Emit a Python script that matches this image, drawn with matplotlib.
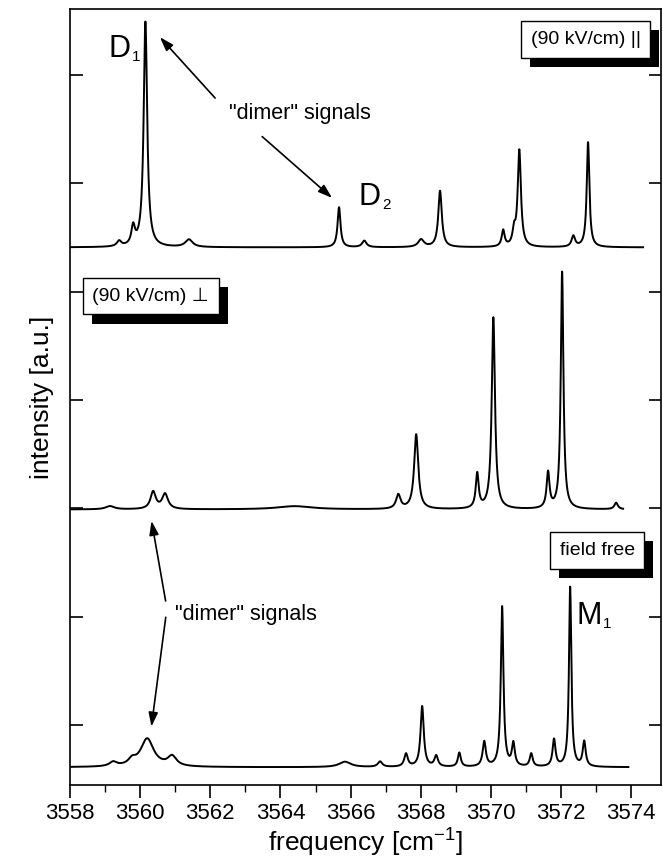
import numpy as np
import matplotlib
matplotlib.use("Agg")
import matplotlib.pyplot as plt
import matplotlib.patheffects as pe
from matplotlib.ticker import MultipleLocator

plt.rcParams['font.family'] = ['Liberation Sans', 'DejaVu Sans']
plt.rcParams['mathtext.fontset'] = 'custom'
plt.rcParams['mathtext.rm'] = 'Liberation Sans'
plt.rcParams['mathtext.it'] = 'Liberation Sans'

# (90 kV/cm) parallel
par_offset = 4.41
par_end = 3574.34
par_pos = [3559.40, 3559.80, 3560.15, 3561.39, 3565.67, 3566.39, 3568.01, 3568.55,
           3570.35, 3570.66, 3570.81, 3572.35, 3572.77]
par_height = [0.05, 0.17, 2.08, 0.07, 0.37, 0.06, 0.07, 0.52, 0.15, 0.13, 0.89, 0.10, 0.97]
par_width = [0.15, 0.12, 0.12, 0.25, 0.10, 0.15, 0.20, 0.12, 0.10, 0.10, 0.11, 0.12, 0.09]

# (90 kV/cm) perpendicular
perp_offset = 1.99
perp_end = 3573.77
perp_pos = [3559.14, 3560.37, 3560.71, 3564.40, 3567.36, 3567.87, 3569.61, 3570.07,
            3571.63, 3572.03, 3573.57]
perp_height = [0.03, 0.16, 0.14, 0.03, 0.13, 0.69, 0.32, 1.77, 0.33, 2.19, 0.06]
perp_width = [0.30, 0.18, 0.20, 1.20, 0.15, 0.14, 0.10, 0.11, 0.10, 0.09, 0.12]

# field free
free_offset = -0.39
free_end = 3573.92
free_pos = [3559.23, 3559.77, 3560.20, 3560.91, 3565.84, 3566.84, 3567.58, 3568.04,
            3568.44, 3569.10, 3569.81, 3570.32, 3570.64, 3571.15, 3571.80, 3572.26, 3572.66]
free_height = [0.04, 0.05, 0.26, 0.09, 0.05, 0.05, 0.12, 0.56, 0.10, 0.13, 0.23, 1.48,
               0.21, 0.12, 0.25, 1.66, 0.23]
free_width = [0.25, 0.25, 0.45, 0.30, 0.40, 0.15, 0.12, 0.11, 0.12, 0.10, 0.11, 0.09,
              0.10, 0.10, 0.10, 0.08, 0.10]

x_ticks = [3558, 3560, 3562, 3564, 3566, 3568, 3570, 3572, 3574]


def spectrum(x, pos, height, width, offset):
    y = np.zeros_like(x) + offset
    for p, h, w in zip(pos, height, width):
        g = w / 2.0
        y += h * g ** 2 / ((x - p) ** 2 + g ** 2)
    return y


def shadow_box(ax, x, y, s):
    t = ax.text(x, y, s, fontsize=14, ha='center', va='center', zorder=5,
                bbox=dict(boxstyle='square,pad=0.5', fc='white', ec='black', lw=1.0))
    t.get_bbox_patch().set_path_effects([
        pe.SimplePatchShadow(offset=(6.5, -6.5), shadow_rgbFace='black', alpha=1.0),
        pe.Normal()])
    return t


def peak_label(ax, x, y, letter, sub):
    # big letter with a small, low subscript like the original figure
    ax.text(x, y, letter, fontsize=22, ha='right', va='baseline')
    ax.annotate(sub, xy=(x, y), xytext=(1, -3), textcoords='offset points',
                fontsize=11, ha='left', va='baseline')


fig = plt.figure(figsize=(6.63, 8.66), dpi=100)
ax = fig.add_axes([0.1056, 0.0935, 0.8914, 0.8961])

x = np.linspace(3558.0, par_end, 4000)
ax.plot(x, spectrum(x, par_pos, par_height, par_width, par_offset), color='black', lw=1.4)
x = np.linspace(3558.0, perp_end, 4000)
ax.plot(x, spectrum(x, perp_pos, perp_height, perp_width, perp_offset), color='black', lw=1.4)
x = np.linspace(3558.0, free_end, 4000)
ax.plot(x, spectrum(x, free_pos, free_height, free_width, free_offset), color='black', lw=1.4)

ax.set_xlim(3558, 3574.85)
ax.set_ylim(-0.554, 6.611)
ax.set_xticks(x_ticks)
ax.set_xticklabels([str(v) for v in x_ticks])
ax.xaxis.set_minor_locator(MultipleLocator(1))
ax.set_yticks([0, 1, 2, 3, 4, 5, 6])
ax.set_yticklabels([])
ax.tick_params(axis='x', which='major', direction='out', length=9, width=1.2, labelsize=16, pad=4)
ax.tick_params(axis='x', which='minor', direction='out', length=5, width=1.0)
ax.tick_params(axis='y', which='major', direction='in', length=9, width=1.2, left=True, right=True)
for sp in ax.spines.values():
    sp.set_linewidth(1.2)

ax.set_xlabel('frequency [cm$^{-1}$]', fontsize=19, labelpad=2)
ax.set_ylabel('intensity [a.u.]', fontsize=19, labelpad=8)

# peak labels
peak_label(ax, 3559.73, 6.17, 'D', '1')
peak_label(ax, 3566.85, 4.80, 'D', '2')
peak_label(ax, 3573.15, 0.93, 'M', '1')

ax.text(3562.54, 5.65, '"dimer" signals', fontsize=15.5, ha='left', va='center')
ax.annotate('', xy=(3560.51, 6.37), xytext=(3562.19, 5.77),
            arrowprops=dict(arrowstyle='-|>,head_length=0.6,head_width=0.2', color='black',
                            lw=1.2, mutation_scale=14))
ax.annotate('', xy=(3565.53, 4.85), xytext=(3563.42, 5.45),
            arrowprops=dict(arrowstyle='-|>,head_length=0.6,head_width=0.2', color='black',
                            lw=1.2, mutation_scale=14))

ax.text(3561.0, 1.02, '"dimer" signals', fontsize=15.5, ha='left', va='center')
ax.annotate('', xy=(3560.31, 1.91), xytext=(3560.74, 1.12),
            arrowprops=dict(arrowstyle='-|>,head_length=0.6,head_width=0.2', color='black',
                            lw=1.2, mutation_scale=14))
ax.annotate('', xy=(3560.31, -0.04), xytext=(3560.74, 1.02),
            arrowprops=dict(arrowstyle='-|>,head_length=0.6,head_width=0.2', color='black',
                            lw=1.2, mutation_scale=14))

shadow_box(ax, 3572.70, 6.33, '(90 kV/cm) ||')
shadow_box(ax, 3560.30, 3.96, '(90 kV/cm) \u22a5')
shadow_box(ax, 3573.03, 1.61, 'field free')

fig.savefig('out.png', dpi=100)
